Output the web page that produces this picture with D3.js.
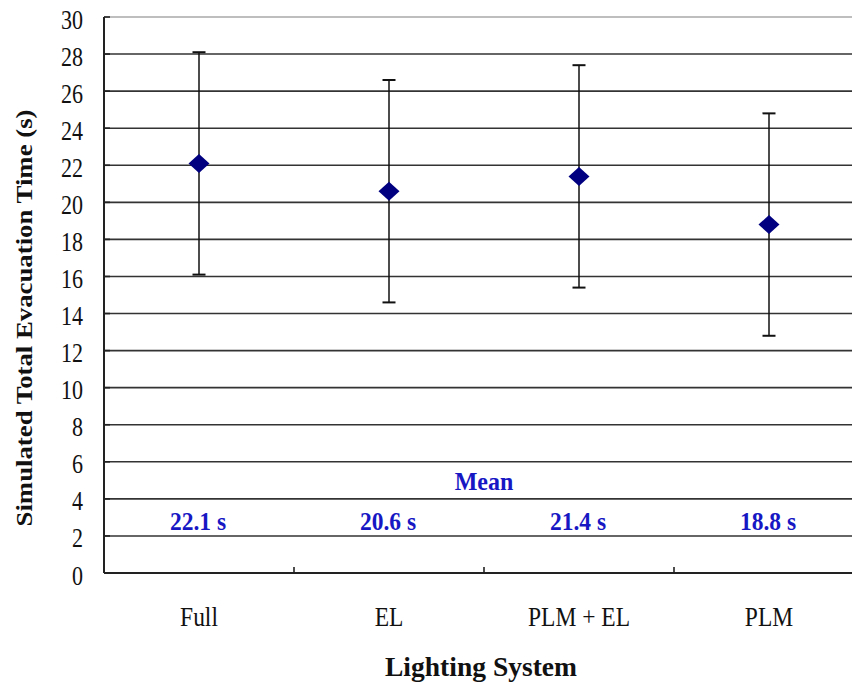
<!DOCTYPE html>
<html>
<head>
<meta charset="utf-8">
<script src="https://cdn.jsdelivr.net/npm/d3@7"></script>
<style>
  body { margin: 0; background: #fff; }
  svg { display: block; }
</style>
</head>
<body>
<svg id="chart" width="852" height="685"></svg>
<script>
// Lighting systems and their simulated total evacuation times (seconds)
const categories = ["Full", "EL", "PLM + EL", "PLM"];
const means = [22.1, 20.6, 21.4, 18.8];
const errors = [6.0, 6.0, 6.0, 6.0];
const yTicks = [0, 2, 4, 6, 8, 10, 12, 14, 16, 18, 20, 22, 24, 26, 28, 30];
const meanTitle = "Mean";
const xTitle = "Lighting System";
const yTitle = "Simulated Total Evacuation Time (s)";

const svg = d3.select("#chart");
const plotLeft = 104, plotRight = 864, plotTop = 17, plotBottom = 573;

const x = d3.scaleBand().domain(categories).range([plotLeft, plotRight]);
const y = d3.scaleLinear().domain([0, 30]).range([plotBottom, plotTop]);
const serif = "'Liberation Serif', 'Times New Roman', serif";
const blue = "#1717c4";

// horizontal gridlines
svg.append("g").selectAll("line")
  .data(yTicks.filter(t => t > 0))
  .join("line")
  .attr("x1", plotLeft).attr("x2", plotRight)
  .attr("y1", d => y(d)).attr("y2", d => y(d))
  .attr("stroke", d => d === 30 ? "#a8a8a8" : "#333")
  .attr("stroke-width", 1.6);

// y axis: line, short inward ticks, condensed serif labels
const yAxis = svg.append("g");
yAxis.append("line")
  .attr("x1", plotLeft).attr("x2", plotLeft).attr("y1", plotTop).attr("y2", plotBottom)
  .attr("stroke", "#222").attr("stroke-width", 2);
yAxis.selectAll("line.tick").data(yTicks).join("line").attr("class", "tick")
  .attr("x1", plotLeft).attr("x2", plotLeft + 6)
  .attr("y1", d => y(d)).attr("y2", d => y(d))
  .attr("stroke", "#222").attr("stroke-width", 1.6);
yAxis.selectAll("text").data(yTicks).join("text")
  .attr("transform", d => `translate(83,${y(d) + 11.5}) scale(1,1.25)`)
  .attr("text-anchor", "end")
  .attr("font-family", serif).attr("font-size", 22).attr("fill", "#111")
  .text(d => d);

// x axis: baseline, band separators, category labels
const xAxis = svg.append("g");
xAxis.append("line")
  .attr("x1", plotLeft).attr("x2", plotRight).attr("y1", plotBottom).attr("y2", plotBottom)
  .attr("stroke", "#222").attr("stroke-width", 2);
xAxis.selectAll("line.tick").data(categories.slice(1)).join("line").attr("class", "tick")
  .attr("x1", d => x(d)).attr("x2", d => x(d))
  .attr("y1", plotBottom).attr("y2", plotBottom - 6)
  .attr("stroke", "#222").attr("stroke-width", 1.6);
xAxis.selectAll("text").data(categories).join("text")
  .attr("transform", d => `translate(${x(d) + x.bandwidth() / 2},626) scale(1,1.2)`)
  .attr("text-anchor", "middle")
  .attr("font-family", serif).attr("font-size", 23.5).attr("fill", "#111")
  .text(d => d);

// error bars (mean ± error) with caps
const bars = svg.append("g").selectAll("g")
  .data(categories.map((c, i) => ({ c, m: means[i], e: errors[i] })))
  .join("g")
  .attr("transform", d => `translate(${x(d.c) + x.bandwidth() / 2},0)`);
bars.append("line")
  .attr("y1", d => y(d.m - d.e)).attr("y2", d => y(d.m + d.e))
  .attr("stroke", "#111").attr("stroke-width", 1.5);
bars.selectAll("line.cap")
  .data(d => [d.m - d.e, d.m + d.e]).join("line").attr("class", "cap")
  .attr("x1", -6.5).attr("x2", 6.5)
  .attr("y1", v => y(v)).attr("y2", v => y(v))
  .attr("stroke", "#111").attr("stroke-width", 2);

// diamond markers at the means
bars.append("path")
  .attr("d", d => {
    const cy = y(d.m), w = 10.5, h = 9.5;
    return `M0,${cy - h}L${w},${cy}L0,${cy + h}L${-w},${cy}Z`;
  })
  .attr("fill", "#000080");

// mean value annotations
svg.append("text")
  .attr("transform", `translate(${(x("EL") + x("PLM + EL") + x.bandwidth()) / 2},490) scale(1,1.08)`)
  .attr("text-anchor", "middle")
  .attr("font-family", serif).attr("font-weight", "bold").attr("font-size", 24)
  .attr("fill", blue).text(meanTitle);
svg.append("g").selectAll("text")
  .data(categories.map((c, i) => ({ c, m: means[i] })))
  .join("text")
  .attr("transform", d => `translate(${x(d.c) + x.bandwidth() / 2 - 1},530) scale(1,1.08)`)
  .attr("text-anchor", "middle")
  .attr("font-family", serif).attr("font-weight", "bold").attr("font-size", 23.5)
  .attr("fill", blue)
  .text(d => d3.format(".1f")(d.m) + " s");

// axis titles
svg.append("text")
  .attr("transform", "translate(481,676) scale(1,1.1)")
  .attr("text-anchor", "middle")
  .attr("font-family", serif).attr("font-weight", "bold").attr("font-size", 25)
  .attr("textLength", 192).attr("lengthAdjust", "spacingAndGlyphs")
  .attr("fill", "#111").text(xTitle);
svg.append("text")
  .attr("transform", "translate(32,318) rotate(-90)")
  .attr("text-anchor", "middle")
  .attr("font-family", serif).attr("font-weight", "bold").attr("font-size", 24)
  .attr("textLength", 417).attr("lengthAdjust", "spacingAndGlyphs")
  .attr("fill", "#111").text(yTitle);
</script>
</body>
</html>
